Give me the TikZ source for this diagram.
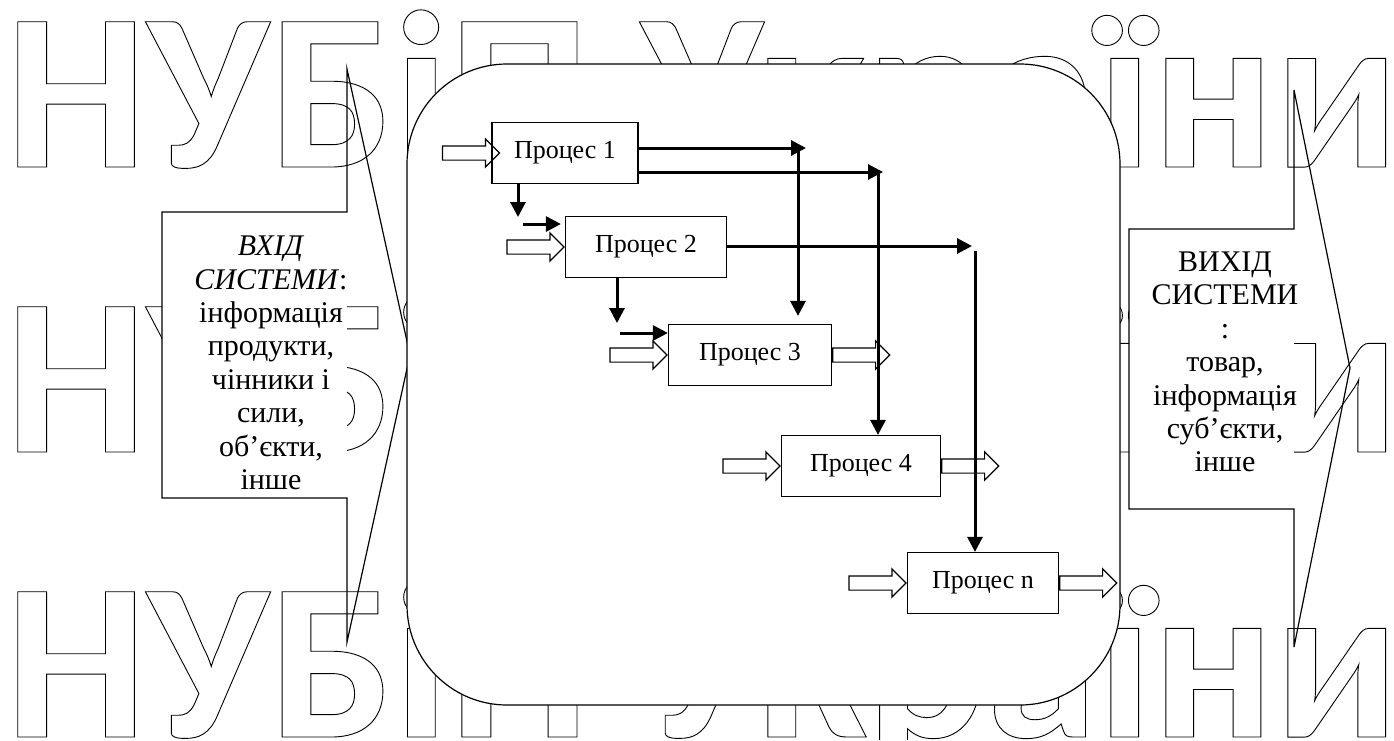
\documentclass[tikz,border=0pt]{standalone}
\usepackage{fontspec}
\setmainfont{Liberation Serif}
\newfontfamily\wmfont{Carlito}
\newcommand\outlined[1]{\special{pdf:literal direct 1 Tr 0.45 w 0 G}#1\special{pdf:literal direct 0 Tr}}
\usetikzlibrary{arrows.meta,shapes.arrows}

\tikzset{
  proc/.style={draw, line width=0.6pt, minimum height=30.5pt, inner sep=0pt, font=\fontsize{13}{16}\selectfont},
  hollow/.style={single arrow, draw, line width=0.6pt, minimum height=28.5pt, inner xsep=0pt, inner ysep=3.25pt, single arrow head extend=3.5pt},
  flow/.style={line width=1.5pt, -{Triangle[length=7.5pt,width=7.5pt]}},
  callout/.style={draw, line width=0.6pt},
  calltext/.style={align=center, inner sep=0pt, font=\fontsize{15}{16.7}\selectfont}
}

\begin{document}
\begin{tikzpicture}[x=0.5pt, y=-0.5pt]
\useasboundingbox (0,0) rectangle (1394,740);
% watermark rows, kept out of the boxes
\begin{scope}[even odd rule]
  \clip (0,0) rectangle (1394,740)
    (407,164) .. controls (407,109) and (452,64) .. (507,64) -- (1020,64)
    .. controls (1075,64) and (1120,109) .. (1120,164) -- (1120,605)
    .. controls (1120,660) and (1075,705) .. (1020,705) -- (507,705)
    .. controls (452,705) and (407,660) .. (407,605) -- cycle
    (162,212) rectangle (347,498) (1129,229) rectangle (1294,509);
  \foreach \y [count=\i] in {167,452,737}
    \node[anchor=base west, inner sep=0pt, font=\wmfont\bfseries\fontsize{112}{112}\selectfont] (wm\i) at (5,\y)
      {\outlined{НУБіП України}};
\end{scope}

% input and output of the system
\draw[callout] (162,212) -- (347,212) -- (347,69) -- (410,355) -- (347,642) -- (347,498) -- (162,498) -- cycle;
\draw[callout] (1129,229) -- (1294,229) -- (1294,90) -- (1350,368) -- (1294,647) -- (1294,509) -- (1129,509) -- cycle;
\node[calltext] (vhid) at (271,363) {\textit{ВХІД}\\\textit{СИСТЕМИ}:\\інформація\\продукти,\\чінники і\\сили,\\об’єкти,\\інше};
\node[calltext] (vyhid) at (1225,362) {ВИХІД\\СИСТЕМИ\\:\\товар,\\інформація\\суб’єкти,\\інше};

% the system
\draw[callout, fill=white, rounded corners=50pt] (407,64) rectangle (1120,705);

\foreach \n/\x/\y/\w in {1/565/153/146, 2/646/247/161, 3/750/355/163, 4/861/466/159, n/983/583/151}
  \node[proc, minimum width=\w*0.5pt] (p\n) at (\x,\y) {Процес \n};

% hollow arrows
\node[hollow, anchor=tip] (in1) at ([xshift=4.5pt]p1.west) {};
\foreach \n in {2,3,4,n}
  \node[hollow, anchor=tip] (in\n) at (p\n.west) {};
\foreach \n in {3,4,n}
  \node[hollow, anchor=tail] (out\n) at (p\n.east) {};

% links
\coordinate (d1) at (518,217);
\coordinate (e2) at (523,224);
\coordinate (d2) at (617,323);
\coordinate (e3) at (620,333);
\coordinate (r1) at (806,148);
\coordinate (v1) at (798,148);
\coordinate (r2) at (883,172);
\coordinate (v2) at (878,172);
\coordinate (r3) at (972,246);
\coordinate (v3) at (975,251);
\draw[flow] (p1.south -| d1) -- (d1);
\draw[flow] (e2) -- ([xshift=-2pt]e2 -| p2.west);
\draw[flow] (p2.south -| d2) -- (d2);
\draw[flow] (e3) -- (e3 -| p3.west);
\draw[flow] (p1.east |- r1) -- (r1);
\draw[flow] (v1) -- ([yshift=4pt]v1 |- p3.north);
\draw[flow] (p1.east |- r2) -- (r2);
\draw[flow] (v2) -- (v2 |- p4.north);
\draw[flow] (p2.east |- r3) -- (r3);
\draw[flow] (v3) -- (v3 |- pn.north);
\end{tikzpicture}
\end{document}
